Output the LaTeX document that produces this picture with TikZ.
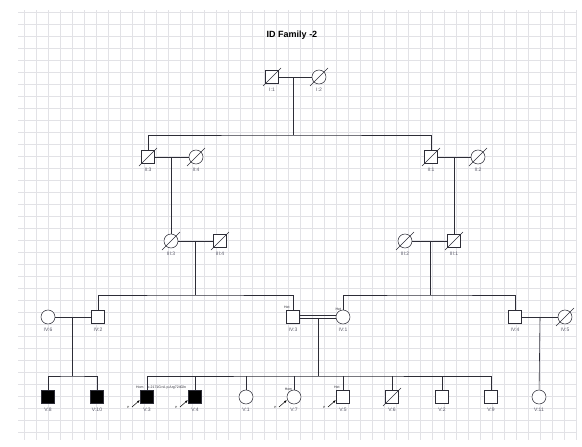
\documentclass[tikz,border=0pt]{standalone}
\usepackage{fontspec}
\setmainfont{Liberation Sans}
\usepackage{tikz}
\usetikzlibrary{positioning, arrows.meta, calc}
\definecolor{pedgray}{RGB}{90, 90, 105}
\definecolor{pedline}{RGB}{45, 45, 55}
\definecolor{pedgrid}{RGB}{226, 226, 230}

\newcommand{\deadmark}[1]{\draw[pedline, line width=0.5pt] ($(#1.center)+(-9,9)$) -- ($(#1.center)+(9,-9)$);}
\newcommand{\probandmark}[1]{\draw[-{Latex[length=3pt]}, line width=0.5pt] ($(#1.center)+(-15,10)$) node[left=-1pt, font=\fontsize{3}{3}\selectfont] {P} -- ($(#1.center)+(-7,3)$);}

\begin{document}
\begin{tikzpicture}[
      x=1pt, y=-1pt,
      male/.style={draw=pedline, line width=0.55pt, fill=white, minimum size=13pt, inner sep=0pt},
      female/.style={circle, draw=pedline, line width=0.55pt, fill=white, minimum size=14pt, inner sep=0pt},
      affected/.style={fill=black},
      id/.style={label={[text=pedgray, font=\fontsize{5}{6}\selectfont, label distance=0.5pt]below:#1}},
      tag/.style={font=\fontsize{3.5}{4}\selectfont, text=pedline, inner sep=0.5pt},
      line/.style={draw=pedline, line width=0.6pt},
    ]
    \useasboundingbox (0,0) rectangle (582,447);
    % Grid
    \draw[pedgrid, step=12pt, very thin] (18,10) grid (576,440);
    \node[font=\bfseries\fontsize{9}{10}\selectfont] (title) at (292,35) {ID Family -2};

    % Generation I
    \node[male, id=I:1] (I1) at (272,77) {};
    \node[female, id=I:2] (I2) at (319,77) {};
    % Generation II
    \node[male, id=II:3] (II3) at (148,157) {};
    \node[female, id=II:4] (II4) at (196,157) {};
    \node[male, id=II:1] (II1) at (431,157) {};
    \node[female, id=II:2] (II2) at (478,157) {};
    % Generation III
    \node[female, id=III:3] (III3) at (171,241) {};
    \node[male, id=III:4] (III4) at (220,241) {};
    \node[female, id=III:2] (III2) at (405,241) {};
    \node[male, id=III:1] (III1) at (454,241) {};
    % Generation IV
    \node[female, id=IV:6] (IV6) at (48,317) {};
    \node[male, id=IV:2] (IV2) at (98,317) {};
    \node[male, id=IV:3] (IV3) at (293,317) {};
    \node[female, id=IV:1] (IV1) at (343,317) {};
    \node[male, id=IV:4] (IV4) at (515,317) {};
    \node[female, id=IV:5] (IV5) at (565,317) {};
    % Generation V
    \node[male, affected, id=V:8] (V8) at (48,397) {};
    \node[male, affected, id=V:10] (V10) at (97,397) {};
    \node[male, affected, id=V:3] (V3) at (147,397) {};
    \node[male, affected, id=V:4] (V4) at (195,397) {};
    \node[female, id=V:1] (V1) at (246,397) {};
    \node[female, id=V:7] (V7) at (294,397) {};
    \node[male, id=V:5] (V5) at (343,397) {};
    \node[male, id=V:6] (V6) at (392,397) {};
    \node[male, id=V:2] (V2) at (442,397) {};
    \node[male, id=V:9] (V9) at (491,397) {};
    \node[female, id=V:11] (V11) at (539,397) {};

    % Couples and descent
    \coordinate (c1) at (293,77);
    \coordinate (s1) at (293,135);
    \coordinate (c2) at (171,157);
    \coordinate (c3) at (454,157);
    \coordinate (c4) at (195,241);
    \coordinate (s4) at (195,295);
    \coordinate (c5) at (430,241);
    \coordinate (s5) at (430,295);
    \coordinate (c6) at (72,317);
    \coordinate (s6) at (72,376);
    \coordinate (c7) at (318,318.5);
    \coordinate (s7) at (318,376);
    \coordinate (c8) at (540,317);

    \draw[line] (I1) -- (I2);
    \draw[line] (c1) -- (s1);
    \draw[line] (II3.north) |- (s1) -| (II1.north);
    \draw[line] (II3) -- (II4);
    \draw[line] (c2) -- (III3);
    \draw[line] (II1) -- (II2);
    \draw[line] (c3) -- (III1);
    \draw[line] (III3) -- (III4);
    \draw[line] (c4) -- (s4);
    \draw[line] (IV2.north) |- (s4) -| (IV3.north);
    \draw[line] (III2) -- (III1);
    \draw[line] (c5) -- (s5);
    \draw[line] (IV1.north) |- (s5) -| (IV4.north);
    \draw[line] (IV6) -- (IV2);
    \draw[line] (c6) -- (s6);
    \draw[line] (V8.north) |- (s6) -| (V10.north);
    % consanguineous union
    \draw[line] ([yshift=-1.5pt]IV3.east) -- ([yshift=-1.5pt]IV1.west);
    \draw[line] ([yshift=1.5pt]IV3.east) -- ([yshift=1.5pt]IV1.west);
    \draw[line] (c7) -- (s7);
    \draw[line] (V3.north) |- (s7) -| (V9.north);
    \foreach \kid in {V4, V1, V7, V5, V6, V2}
      \draw[line] (\kid.north) -- (\kid.north |- s7);
    \draw[line] (IV4) -- (IV5);
    \draw[line] (c8) -- (V11);

    % Deceased
    \foreach \who in {I1, I2, II3, II4, II1, II2, III3, III4, III2, III1, IV5, V6}
      {\deadmark{\who}}

    % Genotype tags
    \node[tag, above left=0.5pt and -4pt of IV3.north west] (tIV3) {Het};
    \node[tag, above left=0.5pt and -4pt of IV1.north west] (tIV1) {Het};
    \node[tag, above left=0.5pt and -4pt of V3.north west] (tV3) {Hom};
    \node[tag, right=3pt of tV3] (var) {c.2171G>A p.Arg724Gln};
    \node[tag, above left=0.5pt and -4pt of V7.north west] (tV7) {Hom};
    \node[tag, above left=0.5pt and -4pt of V5.north west] (tV5) {Het};

    % Probands
    \foreach \who in {V3, V4, V7, V5}
      {\probandmark{\who}}
  \end{tikzpicture}
\end{document}
